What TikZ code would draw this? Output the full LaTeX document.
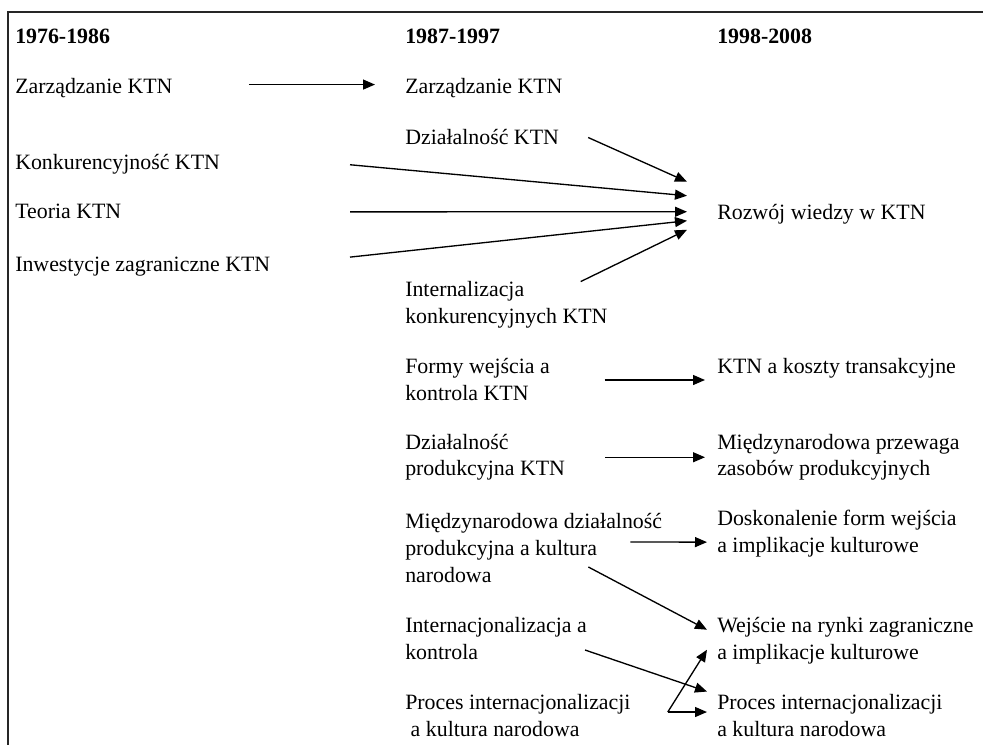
\documentclass[tikz,border=0pt]{standalone}
\usepackage{fontspec}
\setmainfont{Liberation Serif}
\usetikzlibrary{arrows.meta,calc}

\begin{document}
\begin{tikzpicture}[x=0.75pt, y=-0.75pt,
  every node/.style={anchor=base west, inner sep=0pt, align=left, font=\fontsize{16.4}{20.25}\selectfont},
  head/.style={font=\fontsize{16.4}{20.25}\selectfont\bfseries},
  arr/.style={-{Triangle[length=9pt,width=7.5pt]}, line width=1pt}]

  \useasboundingbox (0,0) rectangle (983,745);

  % frame
  \draw[line width=1.6pt, black!85] (983,12) -- (8,12) -- (8,745);

  % Headings
  \node[head] (hA) at (15,44) {1976-1986};
  \node[head] (hB) at (405,44) {1987-1997};
  \node[head] (hC) at (717,44) {1998-2008};

  % Nodes A
  \node (A1) at (15,94) {Zarządzanie KTN};
  \node (A2) at (15,170) {Konkurencyjność KTN};
  \node (A3) at (15,219) {Teoria KTN};
  \node (A4) at (15,272) {Inwestycje zagraniczne KTN};

  % Nodes B (base = last line)
  \node (B1) at (405,94) {Zarządzanie KTN};
  \node (B2) at (405,145) {Działalność KTN};
  \node (B3) at (405,324) {Internalizacja\\konkurencyjnych KTN};
  \node (B4) at (405,401) {Formy wejścia a\\kontrola KTN};
  \node (B5) at (405,476) {Działalność\\produkcyjna KTN};
  \node (B6) at (405,582) {Międzynarodowa działalność\\produkcyjna a kultura\\narodowa};
  \node (B7) at (405,659) {Internacjonalizacja a\\kontrola};
  \node (B8) at (405,736) {Proces internacjonalizacji\\\hspace*{.25em}a kultura narodowa};

  % Nodes C
  \node (C1) at (717,220) {Rozwój wiedzy w KTN};
  \node (C2) at (717,374) {KTN a koszty transakcyjne};
  \node (C3) at (717,476) {Międzynarodowa przewaga\\zasobów produkcyjnych};
  \node (C4) at (717,552) {Doskonalenie form wejścia\\a implikacje kulturowe};
  \node (C5) at (717,659) {Wejście na rynki zagraniczne\\a implikacje kulturowe};
  \node (C6) at (717,736) {Proces internacjonalizacji\\a kultura narodowa};

  % A to B
  \draw[arr] ($(A1.east)+(76,-4)$) -- ($(B1.west)+(-30,-4)$);

  % fan into C1
  \coordinate (fan) at (350,0);
  \draw[arr] ($(B2.east)+(29,0)$) -- ($(C1.west)+(-30,-33)$);
  \draw[arr] (fan |- A2.east) -- ($(C1.west)+(-30,-19)$);
  \draw[arr] (fan |- A3.east) -- ($(C1.west)+(-30,-3)$);
  \draw[arr] ($(fan |- A4.east)+(0,-10)$) -- ($(C1.west)+(-30,6)$);
  \draw[arr] ($(B3.north east)+(-27,0)$) -- ($(C1.west)+(-30,15)$);

  % B to C
  \draw[arr, shorten <=41pt, shorten >=9pt] (B4.east) -- (B4.east -| C2.west);
  \draw[arr, shorten <=30pt, shorten >=9pt] (B5.east) -- (B5.east -| C3.west);
  \draw[arr] ($(B6.east)+(-32,-5.5)$) -- ($(C4.west)+(-10,9)$);
  \draw[arr] ($(B6.east)+(-74,19.5)$) -- ($(C5.west)+(-10,-10.5)$);
  \draw[arr] ($(B7.east)+(-2,12)$) -- ($(C6.north west)+(-10,-2)$);

  % B8 split
  \coordinate (k) at ($(B8.east)+(37,-3)$);
  \draw[arr] (k) -- ($(C5.west)+(-10,9.5)$);
  \draw[arr, shorten >=7.5pt] (k) -- (k -| C6.west);

\end{tikzpicture}
\end{document}
